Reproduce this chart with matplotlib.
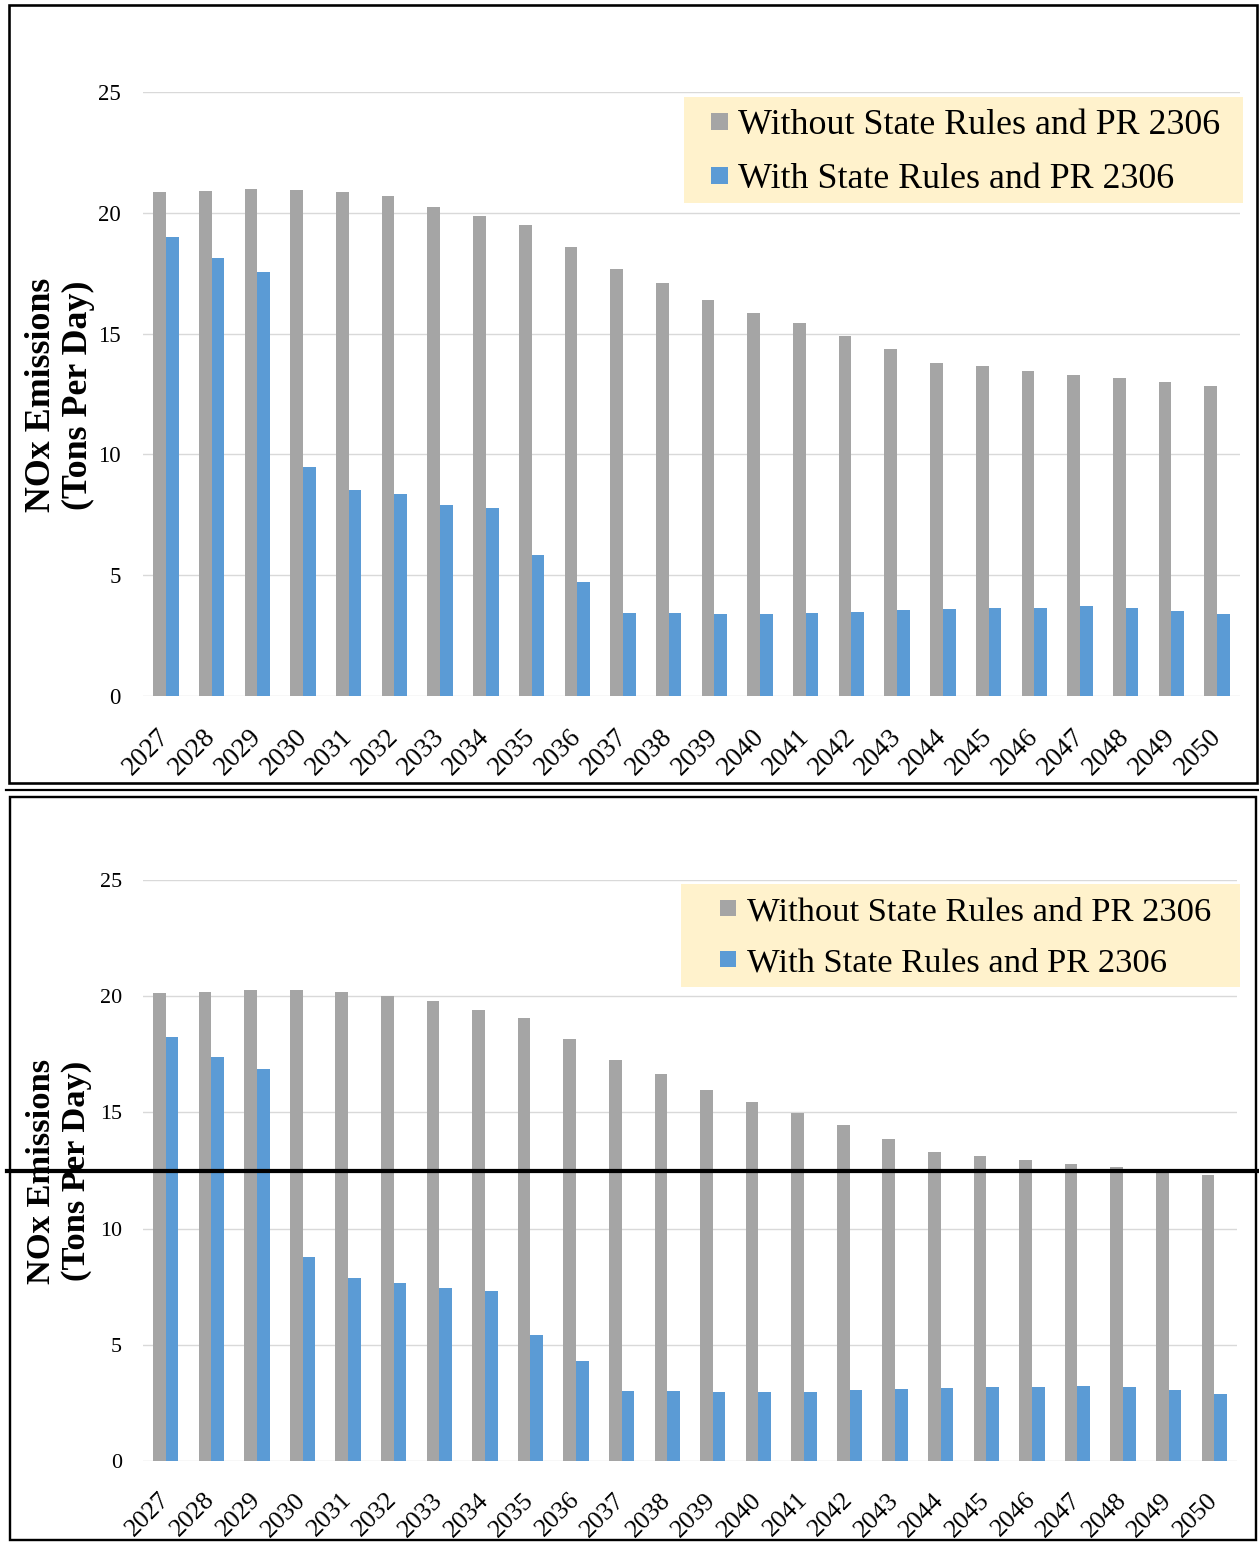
"""
NOx emissions with / without state rules and PR 2306 -- two stacked panels.
Saves out.png (1259 x 1542 px).
"""

import matplotlib.pyplot as plt
from matplotlib.lines import Line2D
from matplotlib.patches import Rectangle
import numpy as np

# ── Data ──────────────────────────────────────────────────────────────────────

YEARS = ["2027", "2028", "2029", "2030", "2031", "2032", "2033", "2034",
         "2035", "2036", "2037", "2038", "2039", "2040", "2041", "2042",
         "2043", "2044", "2045", "2046", "2047", "2048", "2049", "2050"]

TOP_WITHOUT = [20.85, 20.89, 21.00, 20.96, 20.87, 20.68, 20.24, 19.86,
               19.48, 18.57, 17.66, 17.09, 16.39, 15.87, 15.43, 14.90,
               14.35, 13.80, 13.65, 13.44, 13.29, 13.16, 13.00, 12.84]
TOP_WITH = [19.01, 18.14, 17.53, 9.49, 8.54, 8.35, 7.91, 7.78,
            5.84, 4.72, 3.45, 3.45, 3.41, 3.41, 3.45, 3.49,
            3.56, 3.60, 3.64, 3.64, 3.73, 3.64, 3.52, 3.41]

BOT_WITHOUT = [20.12, 20.17, 20.27, 20.27, 20.20, 20.01, 19.81, 19.41,
               19.05, 18.15, 17.24, 16.65, 15.95, 15.43, 14.96, 14.44,
               13.86, 13.30, 13.14, 12.94, 12.79, 12.64, 12.47, 12.31]
BOT_WITH = [18.26, 17.40, 16.85, 8.78, 7.86, 7.65, 7.44, 7.33,
            5.41, 4.29, 3.00, 3.00, 2.96, 2.96, 2.96, 3.04,
            3.09, 3.13, 3.17, 3.17, 3.24, 3.17, 3.04, 2.88]

LABEL_WITHOUT = "Without State Rules and PR 2306"
LABEL_WITH = "With State Rules and PR 2306"
Y_TICKS = [0, 5, 10, 15, 20, 25]
Y_LABEL = "NOx Emissions\n(Tons Per Day)"

# ── Style ─────────────────────────────────────────────────────────────────────

GREY = "#A5A5A5"
BLUE = "#5B9BD5"
GRID = "#D9D9D9"
LEGEND_BG = "#FFF2CC"

plt.rcParams["font.family"] = ["Liberation Serif", "DejaVu Serif"]

W, H = 1259, 1542
DPI = 100
PX = 72 / DPI          # points per pixel

fig = plt.figure(figsize=(W / DPI, H / DPI), dpi=DPI)


def fx(px):
    return px / W


def fy(py):
    return 1 - py / H


def draw_panel(left, right, y0_px, y25_px, without, with_, s,
               leg_rect, leg_anchor, ylab_xy):
    ax = fig.add_axes([fx(left), fy(y0_px), fx(right - left),
                       (y0_px - y25_px) / H])
    x = np.arange(len(YEARS))
    bw = 1 / 3.6
    ax.bar(x - bw / 2, without, bw, color=GREY, label=LABEL_WITHOUT, zorder=2)
    ax.bar(x + bw / 2, with_, bw, color=BLUE, label=LABEL_WITH, zorder=2)

    ax.set_xlim(-0.5, len(YEARS) - 0.5)
    ax.set_ylim(0, 25)
    ax.set_yticks(Y_TICKS)
    ax.set_yticklabels([str(t) for t in Y_TICKS], fontsize=16.5 * s)
    ax.set_xticks(x)
    ax.set_xticklabels(YEARS, fontsize=19.5 * s, rotation=45, ha="right",
                       va="center", rotation_mode="anchor")
    ax.tick_params(axis="y", length=0, pad=22 * PX * s)
    ax.tick_params(axis="x", length=0, pad=37 * PX * s)
    for sp in ax.spines.values():
        sp.set_visible(False)
    ax.yaxis.grid(True, color=GRID, lw=1.0, zorder=0)
    ax.set_axisbelow(True)
    ax.set_facecolor("none")

    # legend: pale yellow box with square markers
    lx0, ly0, lx1, ly1 = leg_rect
    ax.add_patch(Rectangle((fx(lx0), fy(ly1)), fx(lx1 - lx0),
                           (ly1 - ly0) / H, transform=fig.transFigure,
                           facecolor=LEGEND_BG, edgecolor="none",
                           zorder=3, clip_on=False))
    handles = [
        Line2D([], [], ls="none", marker="s", markersize=17 * PX * s,
               markeredgewidth=0, color=GREY),
        Line2D([], [], ls="none", marker="s", markersize=17 * PX * s,
               markeredgewidth=0, color=BLUE),
    ]
    leg = ax.legend(handles, [LABEL_WITHOUT, LABEL_WITH],
                    loc="upper left",
                    bbox_to_anchor=(fx(leg_anchor[0]), fy(leg_anchor[1])),
                    bbox_transform=fig.transFigure, borderaxespad=0,
                    fontsize=25.8 * s, frameon=False, borderpad=0,
                    handlelength=1.0, handletextpad=0.04,
                    labelspacing=0.58)
    leg.set_zorder(6)

    fig.text(fx(ylab_xy[0]), fy(ylab_xy[1]), Y_LABEL, rotation=90,
             ha="center", va="center", ma="center", fontsize=25.8 * s,
             fontweight="bold", linespacing=1.15)
    return ax


draw_panel(143, 1240, 696, 92, TOP_WITHOUT, TOP_WITH, 1.0,
           (683.7, 96.7, 1242.5, 203.3), (701.1, 108.9), (60, 395))
draw_panel(143, 1237, 1461, 880, BOT_WITHOUT, BOT_WITH, 0.962,
           (681.3, 884, 1239.7, 986.7), (710.8, 895.9), (59, 1171))

# ── Panel frames and separator lines ──────────────────────────────────────────

def frame(x0, y0, x1, y1, lw):
    fig.patches.append(Rectangle((fx(x0), fy(y1)), fx(x1 - x0), (y1 - y0) / H,
                                 transform=fig.transFigure, fill=False,
                                 edgecolor="black", lw=lw, zorder=5))


frame(9, 5, 1256.5, 782.5, 2.6 * PX)
frame(9.5, 796.5, 1255.5, 1540, 2.4 * PX)
fig.lines.append(Line2D([fx(6), fx(1259)], [fy(790), fy(790)],
                        transform=fig.transFigure, color="black",
                        lw=2.2 * PX, zorder=5))
fig.lines.append(Line2D([fx(7), fx(1257)], [fy(1171), fy(1171)],
                        transform=fig.transFigure, color="black",
                        lw=4.2 * PX, zorder=6))

fig.savefig("out.png", dpi=DPI)
